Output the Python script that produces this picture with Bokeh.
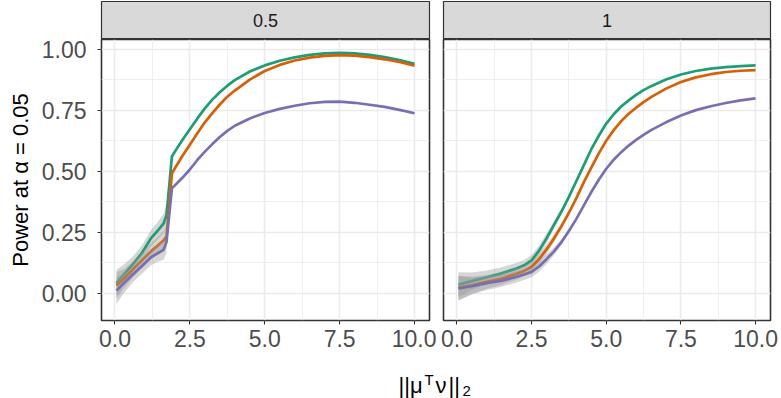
from bokeh.plotting import figure
from bokeh.layouts import row, column
from bokeh.models import Range1d, FixedTicker, Label, NumeralTickFormatter
from bokeh.embed import file_html
from bokeh.resources import INLINE

# ---------------- data ----------------
facet_labels = ["0.5", "1"]

x_ticks = [0, 2.5, 5, 7.5, 10]
x_tick_labels = ["0.0", "2.5", "5.0", "7.5", "10.0"]
x_minor_ticks = [1.25, 3.75, 6.25, 8.75]
y_ticks = [0, 0.25, 0.5, 0.75, 1.0]
y_tick_labels = ["0.00", "0.25", "0.50", "0.75", "1.00"]
y_minor_ticks = [0.125, 0.375, 0.625, 0.875]

# facet "0.5"
x_05 = [0.05, 0.3, 0.6, 0.9, 1.2, 1.45, 1.62, 1.72, 1.9, 2.0, 2.25, 2.5, 2.75, 3.0, 3.25,
        3.5, 3.75, 4.0, 4.5, 5.0, 5.5, 6.0, 6.5, 7.0, 7.5, 8.0, 8.5, 9.0, 9.5, 10.0]
green_05 = [0.042, 0.078, 0.12, 0.165, 0.225, 0.26, 0.285, 0.32, 0.56, 0.58, 0.628, 0.672, 0.716,
            0.757, 0.793, 0.823, 0.85, 0.873, 0.908, 0.933, 0.952, 0.966, 0.976, 0.982, 0.984,
            0.982, 0.976, 0.967, 0.955, 0.94]
orange_05 = [0.032, 0.06, 0.098, 0.135, 0.172, 0.198, 0.216, 0.232, 0.49, 0.512, 0.562, 0.608,
             0.655, 0.7, 0.738, 0.773, 0.805, 0.83, 0.875, 0.91, 0.935, 0.953, 0.965, 0.972,
             0.975, 0.973, 0.967, 0.958, 0.947, 0.932]
purple_05 = [0.012, 0.042, 0.078, 0.112, 0.148, 0.166, 0.178, 0.21, 0.43, 0.442, 0.473, 0.507,
             0.546, 0.58, 0.611, 0.64, 0.665, 0.686, 0.716, 0.738, 0.755, 0.768, 0.778, 0.784,
             0.785, 0.78, 0.772, 0.763, 0.751, 0.737]
band_05 = [0.055, 0.04, 0.032, 0.032, 0.033, 0.036, 0.04, 0.045, 0, 0, 0, 0, 0, 0, 0,
           0, 0, 0, 0, 0, 0, 0, 0, 0, 0, 0, 0, 0, 0, 0]

# facet "1"
x_1 = [0.05, 0.5, 1.0, 1.5, 2.0, 2.25, 2.5, 2.75, 3.0, 3.25, 3.5, 3.75, 4.0, 4.25, 4.5, 4.75,
       5.0, 5.25, 5.5, 5.75, 6.0, 6.25, 6.5, 7.0, 7.5, 8.0, 8.5, 9.0, 9.5, 10.0]
green_1 = [0.036, 0.05, 0.066, 0.082, 0.102, 0.115, 0.135, 0.175, 0.225, 0.28, 0.335, 0.395,
           0.46, 0.525, 0.59, 0.645, 0.695, 0.733, 0.765, 0.79, 0.812, 0.832, 0.848, 0.875,
           0.896, 0.91, 0.92, 0.926, 0.93, 0.933]
orange_1 = [0.023, 0.033, 0.047, 0.06, 0.08, 0.092, 0.108, 0.14, 0.18, 0.225, 0.275, 0.33,
            0.39, 0.455, 0.515, 0.573, 0.625, 0.668, 0.705, 0.735, 0.76, 0.783, 0.803, 0.838,
            0.865, 0.884, 0.897, 0.906, 0.911, 0.914]
purple_1 = [0.02, 0.03, 0.042, 0.052, 0.068, 0.077, 0.088, 0.11, 0.14, 0.172, 0.21, 0.255,
            0.305, 0.36, 0.415, 0.465, 0.51, 0.547, 0.578, 0.605, 0.628, 0.649, 0.668, 0.7,
            0.728, 0.75, 0.766, 0.779, 0.79, 0.798]
band_1 = [0.05, 0.035, 0.028, 0.025, 0.023, 0.022, 0.022, 0.021, 0.02, 0.016, 0.012, 0.008,
          0.005, 0, 0, 0, 0, 0, 0, 0, 0, 0, 0, 0, 0, 0, 0, 0, 0, 0]

# ---------------- style ----------------
FONT = "Liberation Sans"
COLORS = ["#1B9E77", "#D95F02", "#7570B3"]
X_RANGE = (-0.45, 10.5)
Y_RANGE = (-0.111, 1.039)
STRIP_H = 39
PANEL_H = 321
FOOT_H = 38
BOTTOM_B = 40


def style_ticks(ax):
    ax.axis_line_color = None
    ax.major_tick_in = 0
    ax.major_tick_out = 4
    ax.major_tick_line_color = "#333333"
    ax.major_tick_line_width = 1.1
    ax.minor_tick_line_color = None
    ax.major_label_text_font = FONT
    ax.major_label_text_font_size = "23px"
    ax.major_label_text_color = "#4D4D4D"


def make_strip(label, width, mb_left, mb_right):
    s = figure(width=width, height=STRIP_H, x_range=Range1d(0, 1), y_range=Range1d(0, 1),
               x_axis_location=None, y_axis_location=None, tools="",
               toolbar_location=None, output_backend="svg",
               min_border_left=mb_left, min_border_right=mb_right,
               min_border_top=1, min_border_bottom=0)
    s.grid.visible = False
    s.background_fill_color = "#D9D9D9"
    s.border_fill_color = "white"
    s.outline_line_color = "#333333"
    s.outline_line_width = 1.2
    s.add_layout(Label(x=0.5, y=0.5, text=label, text_align="center", text_baseline="middle",
                       text_font=FONT, text_font_size="18px", text_color="#1A1A1A"))
    return s


def make_panel(xs, series, band, width, mb_left, mb_right, y_ticks_marks):
    p = figure(width=width, height=PANEL_H, x_range=Range1d(*X_RANGE), y_range=Range1d(*Y_RANGE),
               tools="", toolbar_location=None, output_backend="svg",
               min_border_left=mb_left, min_border_right=mb_right,
               min_border_top=0, min_border_bottom=BOTTOM_B)
    p.background_fill_color = "white"
    p.border_fill_color = "white"
    p.outline_line_color = "#333333"
    p.outline_line_width = 1.6

    p.xaxis.ticker = FixedTicker(ticks=x_ticks, minor_ticks=x_minor_ticks)
    p.yaxis.ticker = FixedTicker(ticks=y_ticks, minor_ticks=y_minor_ticks)
    p.xgrid.ticker = FixedTicker(ticks=x_ticks, minor_ticks=x_minor_ticks)
    p.ygrid.ticker = FixedTicker(ticks=y_ticks, minor_ticks=y_minor_ticks)
    p.xaxis.formatter = NumeralTickFormatter(format="0.0")
    p.xaxis.major_label_overrides = {t: l for t, l in zip(x_ticks, x_tick_labels)}
    style_ticks(p.xaxis)
    p.xaxis.major_label_standoff = 5

    if y_ticks_marks:
        # tick marks only; the tick labels live in the separate axis figure
        style_ticks(p.yaxis)
        p.yaxis.major_label_overrides = {t: "" for t in y_ticks}
        p.yaxis.major_label_standoff = 0
    else:
        p.yaxis.visible = False

    for g in (p.xgrid, p.ygrid):
        g.grid_line_color = "#EBEBEB"
        g.grid_line_width = 1.6
        g.minor_grid_line_color = "#EBEBEB"
        g.minor_grid_line_width = 0.8

    for ys, col in zip(series, COLORS):
        bx = [x for x, b in zip(xs, band) if b > 0]
        lo = [y - b for y, b in zip(ys, band) if b > 0]
        hi = [y + b for y, b in zip(ys, band) if b > 0]
        p.varea(x=bx, y1=lo, y2=hi, fill_color="#999999", fill_alpha=0.4)
        p.line(xs, ys, line_color=col, line_width=2.7, line_join="round")
    return p


# y-axis (tick labels + title) in its own figure spanning strip + panel height
AX_W = 97
yax = figure(width=AX_W, height=STRIP_H + PANEL_H, x_range=Range1d(0, 1), y_range=Range1d(*Y_RANGE),
             x_axis_location=None, tools="", toolbar_location=None, output_backend="svg",
             min_border_left=AX_W - 1, min_border_right=0,
             min_border_top=STRIP_H, min_border_bottom=BOTTOM_B)
yax.grid.visible = False
yax.outline_line_color = None
yax.background_fill_color = None
yax.yaxis.ticker = FixedTicker(ticks=y_ticks, minor_ticks=y_minor_ticks)
yax.yaxis.formatter = NumeralTickFormatter(format="0.00")
yax.yaxis.major_label_overrides = {t: l for t, l in zip(y_ticks, y_tick_labels)}
style_ticks(yax.yaxis)
yax.yaxis.major_tick_out = 0
yax.yaxis.major_tick_line_color = None
yax.yaxis.major_label_standoff = 6
yax.yaxis.axis_label = "Power at α = 0.05"
yax.yaxis.axis_label_text_font = FONT
yax.yaxis.axis_label_text_font_size = "22px"
yax.yaxis.axis_label_text_font_style = "normal"
yax.yaxis.axis_label_text_color = "#000000"
yax.yaxis.axis_label_standoff = 6

LEFT_W, LEFT_ML, LEFT_MR = 339, 4, 7
RIGHT_W, RIGHT_ML, RIGHT_MR = 344, 7, 10

s1 = make_strip(facet_labels[0], LEFT_W, LEFT_ML, LEFT_MR)
p1 = make_panel(x_05, [green_05, orange_05, purple_05], band_05, LEFT_W, LEFT_ML, LEFT_MR, True)
s2 = make_strip(facet_labels[1], RIGHT_W, RIGHT_ML, RIGHT_MR)
p2 = make_panel(x_1, [green_1, orange_1, purple_1], band_1, RIGHT_W, RIGHT_ML, RIGHT_MR, False)

TOTAL_W = AX_W + LEFT_W + RIGHT_W
foot = figure(width=TOTAL_W, height=FOOT_H, x_range=Range1d(0, TOTAL_W), y_range=Range1d(0, FOOT_H),
              x_axis_location=None, y_axis_location=None, tools="", toolbar_location=None,
              output_backend="svg", min_border=0)
foot.grid.visible = False
foot.outline_line_color = None
# x-axis title ||mu^T nu||_2 built from pieces (text, x, baseline, size)
title_pieces = [("||μ", 398, 13, "22px"), ("T", 424, 19.5, "15px"), ("ν", 435, 13, "22px"),
                ("||", 448, 13, "22px"), ("2", 462, 7.5, "15px")]
for txt, tx, ty, fs in title_pieces:
    foot.add_layout(Label(x=tx, y=ty, text=txt, text_align="left", text_baseline="alphabetic",
                          text_font=FONT, text_font_size=fs, text_color="#000000"))

root = column(row(yax, column(s1, p1), column(s2, p2)), foot)

open("out.html", "w").write(file_html(root, INLINE))
